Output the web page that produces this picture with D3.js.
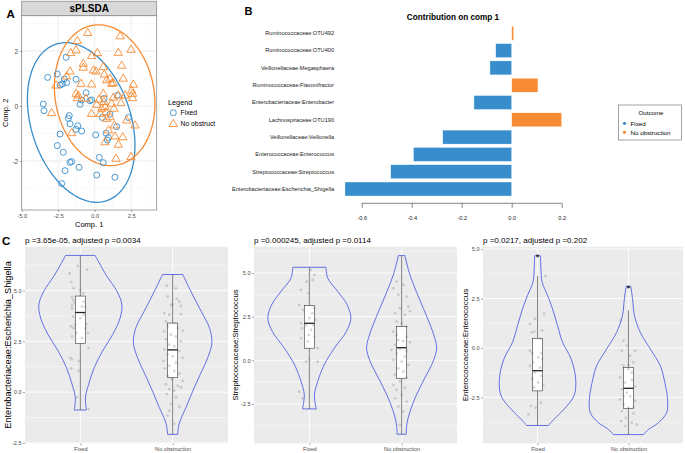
<!DOCTYPE html>
<html><head><meta charset="utf-8">
<script src="https://cdn.jsdelivr.net/npm/d3@7"></script>
<style>
body{margin:0;background:#fff}
svg{display:block}
text{font-family:"Liberation Sans", Arial, Helvetica, sans-serif}
</style>
</head><body>
<svg id="c" width="685" height="453"></svg>
<script>
// ================= DATA =================
// Panel A: sPLSDA sample scores [comp1, comp2]
const groupsA = ["Fixed", "No obstruct"];
const scoresFixed = [[-1.96,1.77],[-3.22,1.04],[-2.56,1.16],[-2.37,0.76],[-2.21,0.80],[-2.08,0.98],[-1.92,0.85],[-1.28,0.97],[-0.59,0.48],[-0.89,0.22],[-0.32,0.19],[-1.00,0.06],[-3.52,0.07],[-3.47,-0.17],[-1.74,-0.35],[-1.80,-0.45],[-1.69,-0.65],[-1.16,-0.72],[-1.28,-0.85],[-0.89,-0.91],[-2.37,-1.02],[-2.56,-1.44],[-2.15,-1.68],[-1.69,-2.05],[-1.58,-2.02],[-1.07,-2.23],[-2.03,-2.35],[-2.26,-2.82],[0.14,-2.51],[1.39,-2.59],[0.32,-1.87],[0.59,-2.06],[0.07,-1.05],[0.64,0.27],[0.53,-0.42],[1.05,-0.30],[0.78,-0.99],[0.94,-1.15],[0.87,-1.24],[1.51,-0.75],[1.55,0.38],[2.31,-0.42],[-0.21,0.22]];
const scoresNoObs = [[-0.48,2.67],[1.74,2.55],[-1.19,2.38],[-1.64,1.94],[-1.28,2.04],[0.18,1.94],[-0.21,1.83],[1.62,1.95],[2.49,2.06],[-1.69,1.27],[-0.78,1.41],[0.09,1.27],[0.59,1.43],[1.85,1.48],[-1.92,1.09],[-2.65,0.76],[-0.94,0.82],[-0.21,0.80],[0.66,1.16],[0.82,0.95],[1.05,1.01],[1.16,0.82],[1.28,0.85],[1.96,1.01],[2.65,0.79],[-1.28,0.46],[-1.19,0.30],[-0.59,0.28],[0.30,0.25],[0.59,0.46],[0.14,0.06],[0.71,-0.02],[0.64,0.16],[1.28,0.32],[1.62,0.40],[1.16,0.10],[1.80,0.12],[2.08,0.40],[2.60,0.46],[2.60,0.30],[2.53,0.58],[-2.95,-0.24],[-1.58,-0.97],[-0.21,-0.27],[0.48,-0.08],[0.78,-0.21],[0.82,-0.45],[1.05,-0.39],[1.32,-0.08],[1.39,-1.09],[1.92,-1.12],[1.62,-1.39],[0.71,-1.30],[0.94,-0.87],[1.46,-1.90],[2.49,-1.84],[2.76,-0.69],[2.19,-0.51],[1.35,-0.69],[-1.12,0.40],[0.37,-0.27],[-0.78,1.55],[-0.09,1.31]];
// confidence ellipses [centre x, centre y, half-range x, half-range y, cos(phase)]
const ellipseFixed = [-0.925, -0.60, 3.685, 2.90, -0.29];
const ellipseNoObs = [0.685, 0.39, 3.445, 2.56, -0.12];
const ticksAx = [-5, -2.5, 0, 2.5];
const ticksAy = [-2, 0, 2];
const minorAx = [-3.75, -1.25, 1.25, 3.75];
const minorAy = [-3, -1, 1, 3];

// Panel B: loadings on component 1
const taxa = ["Ruminococcaceae:OTU492","Ruminococcaceae:OTU400","Veillonellaceae:Megasphaera","Ruminococcaceae:Flavonifractor","Enterobacteriaceae:Enterobacter","Lachnospiraceae:OTU190","Veillonellaceae:Veillonella","Enterococcaceae:Enterococcus","Streptococcaceae:Streptococcus","Enterobacteriaceae:Escherichia_Shigella"];
const contrib = [0.008, -0.064, -0.087, 0.105, -0.151, 0.200, -0.276, -0.393, -0.484, -0.667];
const contribGroup = ["No obstruction","Fixed","Fixed","No obstruction","Fixed","No obstruction","Fixed","Fixed","Fixed","Fixed"];
const outcomes = ["Fixed", "No obstruction"];
const ticksB = [-0.6, -0.4, -0.2, 0, 0.2];

// Panel C: violins
const groupsC = ["Fixed", "No obstruction"];
const titlesC = ["p =3.65e-05, adjusted p =0.0034", "p =0.000245, adjusted p =0.0114", "p =0.0217, adjusted p =0.202"];
const ylabelsC = ["Enterobacteriaceae:Escherichia_Shigella", "Streptococcaceae:Streptococcus", "Enterococcaceae:Enterococcus"];
const ydomC = [[-2.52, 7.16], [-4.76, 6.51], [-4.82, 5.12]];
const ticksC = [-2.5, 0, 2.5, 5];
const minorC = [[-1.25, 1.25, 3.75, 6.25], [-3.75, -1.25, 1.25, 3.75, 6.25], [-3.75, -1.25, 1.25, 3.75]];
// violin outlines: [value, half-width in category units]
const violin1Fixed = [[6.73,0.16],[5.76,0.28],[4.94,0.40],[4.29,0.45],[3.64,0.43],[2.83,0.35],[2.02,0.24],[1.20,0.15],[0.39,0.09],[-0.26,0.055],[-0.88,0.065]];
const violin1NoObs = [[5.79,0.11],[4.94,0.20],[3.97,0.31],[3.15,0.40],[2.42,0.425],[1.69,0.38],[0.88,0.30],[0.07,0.22],[-0.75,0.145],[-1.56,0.07],[-2.08,0.055]];
const violin2Fixed = [[5.33,0.18],[4.70,0.20],[3.93,0.31],[3.17,0.41],[2.40,0.45],[1.64,0.40],[0.69,0.27],[-0.27,0.16],[-1.22,0.09],[-1.99,0.055],[-2.79,0.075]];
const violin2NoObs = [[6.0,0.035],[4.89,0.09],[3.93,0.16],[2.98,0.235],[2.02,0.31],[1.26,0.36],[0.69,0.38],[-0.08,0.34],[-1.03,0.25],[-1.99,0.16],[-2.94,0.09],[-3.71,0.055],[-4.24,0.05]];
const violin3Fixed = [[4.66,0.033],[4.0,0.037],[3.34,0.05],[2.66,0.11],[1.98,0.165],[1.13,0.22],[0.29,0.275],[-0.56,0.37],[-1.58,0.42],[-2.43,0.40],[-3.10,0.29],[-3.61,0.18],[-3.92,0.12]];
const violin3NoObs = [[3.12,0.026],[2.49,0.045],[1.64,0.066],[0.79,0.13],[-0.05,0.24],[-0.9,0.35],[-1.75,0.40],[-2.6,0.43],[-3.27,0.42],[-3.78,0.33],[-4.12,0.22],[-4.38,0.165]];
// box stats: [lower whisker, Q1, median, Q3, upper whisker]
const box1 = [[-0.88, 2.39, 3.92, 4.73, 6.73], [-2.08, 0.72, 2.08, 3.40, 5.79]];
const box2 = [[-2.79, 0.69, 2.12, 3.13, 5.33], [-4.24, -1.03, 0.72, 1.93, 6.0]];
const box3 = [[-3.92, -2.17, -1.15, 0.49, 3.64], [-4.38, -3.05, -2.04, -0.99, 1.9]];
const outliers3 = [[4.66], [3.08]];
// jittered samples: [offset in category units, value]
const jit1Fixed = [[-0.116,5.84],[-0.03,6.21],[0.073,6.03],[-0.10,5.43],[-0.073,5.11],[0,5.02],[0.03,4.86],[-0.09,4.70],[-0.08,4.54],[-0.065,4.42],[-0.09,4.29],[0.036,4.46],[0.018,4.21],[0.055,4.21],[-0.09,4.13],[0.036,3.81],[-0.08,3.72],[0,3.64],[0.065,3.35],[-0.055,3.32],[-0.10,3.24],[-0.073,3.15],[0.055,3.15],[0.08,2.91],[-0.044,2.91],[-0.09,2.74],[0.018,2.67],[0.09,2.18],[-0.11,1.69],[-0.09,1.61],[-0.018,1.53],[-0.10,1.17],[-0.018,1.04],[-0.036,-0.26],[0.09,-0.83]];
const jit1NoObs = [[-0.065,5.24],[0.036,5.11],[-0.055,4.70],[0.047,4.59],[0.073,4.45],[0,4.32],[0.09,4.24],[-0.018,4.29],[-0.09,3.89],[-0.036,3.81],[0.09,3.84],[-0.073,3.48],[0.018,3.40],[-0.055,3.24],[0.055,3.15],[0.11,3.02],[-0.09,2.99],[-0.018,2.83],[0.036,2.74],[-0.073,2.59],[0.09,2.50],[-0.036,2.34],[0.018,2.26],[-0.09,2.10],[0.073,2.02],[-0.055,1.85],[0,1.77],[0.11,1.69],[-0.10,1.53],[0.036,1.45],[-0.036,1.29],[-0.084,1.17],[0.018,1.04],[0.073,0.91],[-0.055,0.80],[-0.011,0.63],[0.11,0.55],[-0.073,0.39],[0.055,0.31],[0.09,0.23],[-0.036,0.15],[0.018,0.07],[-0.062,-0.10],[0.036,-0.26],[-0.018,-0.59],[0.073,-0.72],[-0.036,-0.91],[-0.055,-1.16],[0.018,-1.56]];
const jit2Fixed = [[-0.09,4.03],[-0.03,4.51],[0.054,4.89],[0.036,4.60],[0.018,5.17],[-0.007,3.84],[-0.11,3.17],[0.054,2.98],[-0.065,2.88],[0.03,2.69],[0,2.41],[0.065,2.31],[-0.09,2.12],[-0.036,2.02],[0.043,2.02],[-0.08,1.83],[0.018,1.74],[-0.007,1.45],[-0.09,1.26],[0.054,1.35],[-0.018,1.07],[0.09,0.69],[0,0.02],[-0.036,-0.08],[0.09,-0.08],[-0.11,-1.80],[-0.072,-2.18]];
const jit2NoObs = [[-0.054,4.51],[0.018,4.32],[-0.09,4.12],[-0.036,3.74],[0.054,3.65],[0.072,3.07],[-0.018,2.98],[0.09,2.82],[-0.072,2.69],[0.036,2.60],[-0.054,2.21],[0,2.12],[0.054,1.93],[-0.09,1.64],[-0.054,1.45],[0.054,1.35],[-0.036,1.16],[0.018,1.11],[0.09,1.03],[-0.072,0.88],[-0.018,0.65],[-0.11,0.59],[0.054,0.53],[-0.054,0.40],[0.036,0.21],[-0.09,0.02],[0,-0.08],[0.072,-0.27],[-0.036,-0.46],[0.018,-0.65],[-0.072,-0.84],[0.054,-0.99],[-0.018,-1.22],[-0.09,-1.41],[0.036,-1.57],[-0.054,-1.70],[0,-1.99],[-0.072,-2.18],[0.054,-2.37],[-0.036,-2.66],[0.018,-2.94],[-0.018,-3.71]];
const jit3Fixed = [[0,4.61],[0.088,3.64],[0.073,1.73],[-0.03,1.47],[-0.084,1.22],[-0.066,0.79],[-0.037,0.83],[0.051,0.88],[0.026,0.46],[-0.084,-0.14],[-0.059,-0.27],[0.044,-0.26],[0.007,-0.48],[0.051,-0.56],[-0.048,-0.73],[-0.084,-0.90],[0.026,-0.99],[-0.03,-1.24],[0.044,-1.41],[-0.059,-1.58],[0.007,-1.75],[0.062,-1.88],[-0.037,-2.00],[0.037,-2.77],[-0.073,-2.93],[-0.022,-3.02],[-0.10,-3.36]];
const jit3NoObs = [[-0.084,1.39],[-0.055,0.37],[-0.018,0.12],[-0.073,-0.14],[0.073,-0.14],[0.018,-0.39],[0.055,-0.73],[0,-0.87],[-0.055,-0.90],[0,-1.07],[0.037,-1.24],[-0.092,-1.49],[0.037,-1.61],[-0.037,-1.75],[0.073,-1.95],[-0.073,-2.09],[-0.018,-2.26],[-0.055,-2.43],[0.018,-2.43],[-0.092,-2.60],[0.073,-2.68],[-0.055,-2.85],[0,-3.02],[0.055,-3.02],[-0.073,-3.19],[0.055,-3.31],[-0.029,-3.53],[-0.081,-3.70],[0.037,-3.78],[0.092,-3.87],[-0.037,-3.95]];

// ================= DRAWING =================
const svg = d3.select("#c");
const BLUE = "#388ECC", ORANGE = "#F68B33";
const colorOutcome = d3.scaleOrdinal().domain(outcomes).range([BLUE, ORANGE]);
svg.append("rect").attr("width", 685).attr("height", 453).attr("fill", "#fff");

function styleAxis(g, size, color) {
  g.select(".domain").remove();
  g.selectAll(".tick line").attr("stroke", "#4D4D4D").attr("stroke-width", 0.5);
  g.selectAll(".tick text").attr("font-size", size).attr("fill", color)
    .attr("font-family", '"Liberation Sans", Arial, sans-serif');
}

// ---------- Panel A ----------
(function () {
  const x0 = 21.7, x1 = 156.7, yt = 15.7, yb = 210;
  const xA = d3.scaleLinear().domain([-5, 4.25]).range([x0, x1]);
  const yA = d3.scaleLinear().domain([-3.78, 3.28]).range([yb, yt]);
  const g = svg.append("g");
  g.selectAll(".mx").data(minorAx).join("line").attr("x1", d => xA(d)).attr("x2", d => xA(d))
    .attr("y1", yt).attr("y2", yb).attr("stroke", "#F4F4F4").attr("stroke-width", 0.5);
  g.selectAll(".my").data(minorAy).join("line").attr("y1", d => yA(d)).attr("y2", d => yA(d))
    .attr("x1", x0).attr("x2", x1).attr("stroke", "#F4F4F4").attr("stroke-width", 0.5);
  g.selectAll(".Mx").data(ticksAx).join("line").attr("x1", d => xA(d)).attr("x2", d => xA(d))
    .attr("y1", yt).attr("y2", yb).attr("stroke", "#E8E8E8").attr("stroke-width", 0.8);
  g.selectAll(".My").data(ticksAy).join("line").attr("y1", d => yA(d)).attr("y2", d => yA(d))
    .attr("x1", x0).attr("x2", x1).attr("stroke", "#E8E8E8").attr("stroke-width", 0.8);

  function ellipsePts(e) {
    const [cx, cy, rx, ry, cphi] = e; const phi = Math.acos(cphi);
    return d3.range(0, 361, 3).map(a => { const t = a * Math.PI / 180; return [cx + rx * Math.cos(t), cy + ry * Math.cos(t + phi)]; });
  }
  const line = d3.line().x(d => xA(d[0])).y(d => yA(d[1])).curve(d3.curveLinearClosed);
  g.append("path").attr("d", line(ellipsePts(ellipseFixed))).attr("fill", "none").attr("stroke", BLUE).attr("stroke-width", 1.3);
  g.append("path").attr("d", line(ellipsePts(ellipseNoObs))).attr("fill", "none").attr("stroke", ORANGE).attr("stroke-width", 1.3);

  g.selectAll(".pf").data(scoresFixed).join("circle").attr("cx", d => xA(d[0])).attr("cy", d => yA(d[1]))
    .attr("r", 3).attr("fill", "none").attr("stroke", BLUE).attr("stroke-width", 0.9);
  const tri = d3.symbol(d3.symbolTriangle).size(30)();
  g.selectAll(".pn").data(scoresNoObs).join("path").attr("d", tri)
    .attr("transform", d => `translate(${xA(d[0])},${yA(d[1]) + 0.6})`)
    .attr("fill", "none").attr("stroke", ORANGE).attr("stroke-width", 0.9);

  g.append("rect").attr("x", x0).attr("y", yt).attr("width", x1 - x0).attr("height", yb - yt)
    .attr("fill", "none").attr("stroke", "#808080").attr("stroke-width", 0.7);
  // strip
  g.append("rect").attr("x", x0).attr("y", 1.2).attr("width", x1 - x0).attr("height", yt - 1.2)
    .attr("fill", "#D9D9D9").attr("stroke", "#808080").attr("stroke-width", 0.7);
  g.append("text").attr("x", (x0 + x1) / 2).attr("y", 12.3).attr("text-anchor", "middle")
    .attr("font-size", 10).attr("font-weight", "bold").text("sPLSDA");

  const ax = g.append("g").attr("transform", `translate(0,${yb})`)
    .call(d3.axisBottom(xA).tickValues(ticksAx).tickFormat(d => d.toFixed(1)).tickSize(2).tickPadding(1.5));
  styleAxis(ax, 5.8, "#4D4D4D");
  const ay = g.append("g").attr("transform", `translate(${x0},0)`)
    .call(d3.axisLeft(yA).tickValues(ticksAy).tickFormat(d => String(d)).tickSize(2).tickPadding(1.5));
  styleAxis(ay, 6.5, "#4D4D4D");
  g.append("text").attr("x", (x0 + x1) / 2).attr("y", 227).attr("text-anchor", "middle").attr("font-size", 7.5).text("Comp. 1");
  g.append("text").attr("transform", `translate(7.5,${(yt + yb) / 2}) rotate(-90)`).attr("text-anchor", "middle").attr("font-size", 7.5).text("Comp. 2");

  // legend
  g.append("text").attr("x", 168).attr("y", 104.5).attr("font-size", 7.3).text("Legend");
  const lg = g.append("g");
  groupsA.forEach((name, i) => {
    const yy = 112.7 + i * 10.8;
    if (i === 0) lg.append("circle").attr("cx", 173.3).attr("cy", yy).attr("r", 3).attr("fill", "none").attr("stroke", BLUE).attr("stroke-width", 0.9);
    else lg.append("path").attr("d", tri).attr("transform", `translate(173.3,${yy + 0.6})`).attr("fill", "none").attr("stroke", ORANGE).attr("stroke-width", 0.9);
    lg.append("text").attr("x", 180.5).attr("y", yy + 2.5).attr("font-size", 6.8).text(name);
  });
  svg.append("text").attr("x", 6.5).attr("y", 18.3).attr("font-size", 11.5).attr("font-weight", "bold").text("A");
})();

// ---------- Panel B ----------
(function () {
  const g = svg.append("g");
  const xB = d3.scaleLinear().domain([-0.6, 0.2]).range([361.7, 561.7]);
  const yB = d3.scaleBand().domain(taxa).range([23, 199.3]).padding(0.19);
  g.selectAll(".bar").data(taxa).join("rect")
    .attr("x", (d, i) => xB(Math.min(0, contrib[i])))
    .attr("width", (d, i) => Math.abs(xB(contrib[i]) - xB(0)))
    .attr("y", d => yB(d)).attr("height", yB.bandwidth())
    .attr("fill", (d, i) => colorOutcome(contribGroup[i]))
    .attr("stroke", "#fff").attr("stroke-width", 0.4);
  const ay = g.append("g").attr("transform", "translate(337,0)")
    .call(d3.axisLeft(yB).tickSize(0).tickPadding(3));
  styleAxis(ay, 5.6, "#222");
  const ax = g.append("g").attr("transform", "translate(0,203.3)")
    .call(d3.axisBottom(xB).tickValues(ticksB).tickFormat(d => d.toFixed(1)).tickSize(4.5).tickPadding(8));
  styleAxis(ax, 5.6, "#222");
  ax.selectAll(".tick line").attr("stroke", "#333").attr("stroke-width", 0.6);
  g.append("line").attr("x1", xB(ticksB[0])).attr("x2", xB(ticksB[ticksB.length - 1]))
    .attr("y1", 203.3).attr("y2", 203.3).attr("stroke", "#333").attr("stroke-width", 0.6);
  g.append("text").attr("x", 453).attr("y", 20.3).attr("text-anchor", "middle").attr("font-size", 8.2).attr("font-weight", "bold").text("Contribution on comp 1");
  // legend
  g.append("rect").attr("x", 618.5).attr("y", 105).attr("width", 63).attr("height", 35)
    .attr("fill", "#fff").attr("stroke", "#666").attr("stroke-width", 0.6);
  g.append("text").attr("x", 651).attr("y", 115).attr("text-anchor", "middle").attr("font-size", 6.2).text("Outcome");
  outcomes.forEach((o, i) => {
    const yy = 123.3 + i * 9;
    g.append("circle").attr("cx", 624.5).attr("cy", yy).attr("r", 1.6).attr("fill", colorOutcome(o));
    g.append("text").attr("x", 630.5).attr("y", yy + 2.2).attr("font-size", 6.2).text(o);
  });
  svg.append("text").attr("x", 244.5).attr("y", 15.3).attr("font-size", 11).attr("font-weight", "bold").text("B");
})();

// ---------- Panel C ----------
const panelsC = [
  { x0: 25, x1: 228, ylab: 7.5, ylabSize: 9.2, violins: [violin1Fixed, violin1NoObs], box: box1, jit: [jit1Fixed, jit1NoObs], out: [[], []] },
  { x0: 254, x1: 457, ylab: 235, ylabSize: 7.6, violins: [violin2Fixed, violin2NoObs], box: box2, jit: [jit2Fixed, jit2NoObs], out: [[], []] },
  { x0: 483, x1: 683, ylab: 465.5, ylabSize: 8, violins: [violin3Fixed, violin3NoObs], box: box3, jit: [jit3Fixed, jit3NoObs], out: outliers3 }
];
panelsC.forEach((p, k) => {
  const yt = 246.7, yb = 443.3;
  const g = svg.append("g");
  const x = d3.scalePoint().domain(groupsC).range([p.x0, p.x1]).padding(0.6);
  const y = d3.scaleLinear().domain(ydomC[k]).range([yb, yt]);
  const step = x.step();
  g.append("rect").attr("x", p.x0).attr("y", yt).attr("width", p.x1 - p.x0).attr("height", yb - yt).attr("fill", "#EBEBEB");
  g.selectAll(".mn").data(minorC[k]).join("line").attr("x1", p.x0).attr("x2", p.x1)
    .attr("y1", d => y(d)).attr("y2", d => y(d)).attr("stroke", "#fff").attr("stroke-width", 0.45);
  g.selectAll(".mj").data(ticksC.filter(t => t >= ydomC[k][0] && t <= ydomC[k][1])).join("line").attr("x1", p.x0).attr("x2", p.x1)
    .attr("y1", d => y(d)).attr("y2", d => y(d)).attr("stroke", "#fff").attr("stroke-width", 0.9);
  g.selectAll(".mx").data(groupsC).join("line").attr("x1", d => x(d)).attr("x2", d => x(d))
    .attr("y1", yt).attr("y2", yb).attr("stroke", "#fff").attr("stroke-width", 0.9);

  groupsC.forEach((grp, i) => {
    const cx = x(grp);
    const area = d3.area().curve(d3.curveCatmullRom)
      .y(d => y(d[0])).x0(d => cx - d[1] * step).x1(d => cx + d[1] * step);
    g.append("path").attr("d", area(p.violins[i])).attr("fill", "none").attr("stroke", "#3F51E0").attr("stroke-width", 0.8);
    const b = p.box[i];
    const hw = 0.055 * step;
    g.append("line").attr("x1", cx).attr("x2", cx).attr("y1", y(b[3])).attr("y2", y(b[4])).attr("stroke", "#333").attr("stroke-width", 0.6);
    g.append("line").attr("x1", cx).attr("x2", cx).attr("y1", y(b[0])).attr("y2", y(b[1])).attr("stroke", "#333").attr("stroke-width", 0.6);
    g.append("rect").attr("x", cx - hw).attr("width", 2 * hw).attr("y", y(b[3])).attr("height", y(b[1]) - y(b[3]))
      .attr("fill", "#fff").attr("stroke", "#333").attr("stroke-width", 0.6);
    g.append("line").attr("x1", cx - hw).attr("x2", cx + hw).attr("y1", y(b[2])).attr("y2", y(b[2])).attr("stroke", "#222").attr("stroke-width", 1.3);
    g.selectAll(".o" + i).data(p.out[i]).join("circle").attr("cx", cx).attr("cy", d => y(d)).attr("r", 1.4).attr("fill", "#222");
    g.selectAll(".j" + i).data(p.jit[i]).join("circle").attr("cx", d => cx + d[0] * step).attr("cy", d => y(d[1]))
      .attr("r", 1.4).attr("fill", "#7a7a7a").attr("fill-opacity", 0.3);
  });

  const ay = g.append("g").attr("transform", `translate(${p.x0},0)`)
    .call(d3.axisLeft(y).tickValues(ticksC.filter(t => t >= ydomC[k][0] && t <= ydomC[k][1])).tickFormat(d => d.toFixed(1)).tickSize(2).tickPadding(1.5));
  styleAxis(ay, 5.6, "#4D4D4D");
  const ax = g.append("g").attr("transform", `translate(0,${yb})`)
    .call(d3.axisBottom(x).tickSize(2).tickPadding(1.5));
  styleAxis(ax, 5.6, "#4D4D4D");
  g.append("text").attr("x", p.x0).attr("y", 243).attr("font-size", 8).text(titlesC[k]);
  g.append("text").attr("transform", `translate(${p.ylab},${(yt + yb) / 2}) rotate(-90)`)
    .attr("text-anchor", "middle").attr("dominant-baseline", "central").attr("font-size", p.ylabSize).text(ylabelsC[k]);
});
svg.append("text").attr("x", 2).attr("y", 245).attr("font-size", 11.5).attr("font-weight", "bold").text("C");
</script>
</body></html>
